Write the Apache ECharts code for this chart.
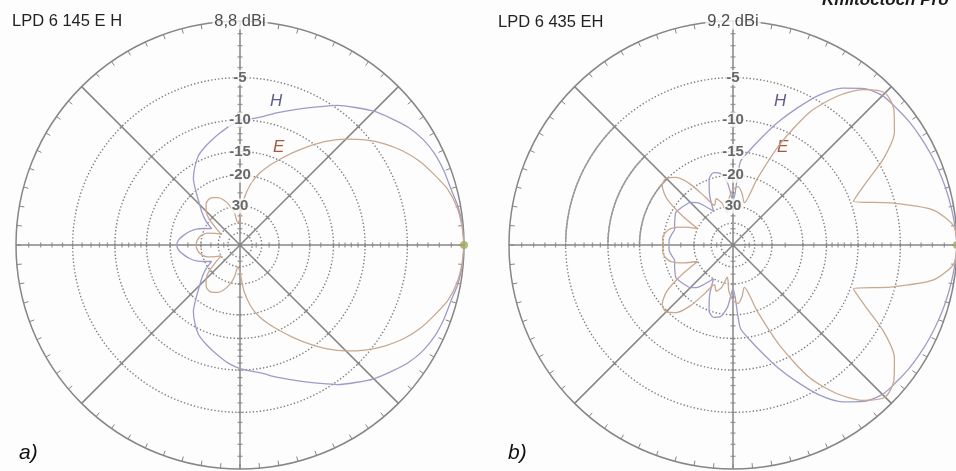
<!DOCTYPE html>
<html>
<head>
<meta charset="utf-8">
<script src="https://cdn.jsdelivr.net/npm/echarts@6/dist/echarts.min.js"></script>
<style>
  html, body { margin: 0; padding: 0; background: #fdfdfd; }
  #c { width: 956px; height: 471px; }
</style>
</head>
<body>
<div id="c"></div>
<script>
// Azimuth angle of every sample, degrees (0 = boresight, to the right)
const angles = [0,5,10,15,20,25,30,35,40,45,50,55,60,65,70,75,80,85,90,95,100,105,110,115,120,125,130,135,140,145,150,155,160,165,170,175,180,
  185,190,195,200,205,210,215,220,225,230,235,240,245,250,255,260,265,270,275,280,285,290,295,300,305,310,315,320,325,330,335,340,345,350,355,360];

// LPD 6 145 E H — relative gain in dB
const leftH = [0,-0.05,-0.2,-0.45,-0.55,-0.7,-1.0,-1.5,-2.2,-2.9,-3.8,-4.7,-5.8,-6.8,-7.7,-8.5,-9.3,-9.8,-10.2,-10.8,-11.6,-12.4,-13.2,-14.1,-15.6,-17.4,-20.5,-23.5,-26,-29,-33,-30,-27,-25,-23.5,-22.2,-21.7,
  -22.2,-23.5,-25,-27,-30,-33,-29,-26,-23.5,-20.5,-17.4,-15.6,-14.1,-13.2,-12.4,-11.6,-10.8,-10.2,-9.8,-9.3,-8.5,-7.7,-6.8,-5.8,-4.7,-3.8,-2.9,-2.2,-1.5,-1.0,-0.7,-0.55,-0.45,-0.2,-0.05,0];
const leftE = [0,-0.1,-0.3,-0.7,-1.4,-2.1,-3.0,-4.1,-5.4,-6.9,-8.6,-10.6,-12.7,-14.8,-16.8,-19,-22,-27,-36,-40,-33,-29,-26.5,-25,-24.2,-24,-24.8,-26.5,-29.5,-35,-40,-36,-32,-30,-28.8,-28.2,-28,
  -28.2,-28.8,-30,-32,-36,-40,-35,-29.5,-26.5,-24.8,-24,-24.2,-25,-26.5,-29,-33,-40,-36,-27,-22,-19,-16.8,-14.8,-12.7,-10.6,-8.6,-6.9,-5.4,-4.1,-3.0,-2.1,-1.4,-0.7,-0.3,-0.1,0];

// LPD 6 435 EH — relative gain in dB
const rightH = [0,-0.1,-0.2,-0.3,-0.4,-0.5,-0.6,-0.7,-0.85,-1.0,-1.6,-2.7,-4.4,-6.8,-9.3,-12,-14.5,-17,-28,-22,-19.3,-18.8,-20,-24,-30,-27,-24,-22.5,-22,-21.5,-21,-21.5,-22,-22.5,-22,-21.5,-21.5,
  -21.5,-22,-22.5,-22,-21.5,-21,-21.5,-22,-22.5,-24,-27,-30,-24,-20,-18.8,-19.3,-22,-28,-17,-14.5,-12,-9.3,-6.8,-4.4,-2.7,-1.6,-1.0,-0.85,-0.7,-0.6,-0.5,-0.4,-0.3,-0.2,-0.1,0];
const rightE = [0,-0.2,-1.7,-5.5,-9.6,-7.3,-4.3,-2.2,-1.1,-0.7,-1.7,-3.6,-6.5,-12,-20,-28,-25,-23,-24,-27,-33,-28,-26,-28,-24,-19,-16,-14.8,-15.2,-17.5,-23,-30,-25,-21.5,-20.2,-19.8,-20,
  -19.8,-20.2,-21.5,-25,-30,-23,-17.5,-15.2,-14.8,-16,-19,-24,-28,-26,-28,-33,-27,-24,-23,-25,-28,-20,-12,-6.5,-3.6,-1.7,-0.7,-1.1,-2.2,-4.3,-7.3,-9.6,-5.5,-1.7,-0.2,0];

// Grid: dotted rings, labelled rings, dB tick marks along the axes
const ringLevels = [-5, -10, -15, -20, -30, -40, -50];
const ringLabelLevels = [-5, -10, -15, -20, -30];
const ringLabelTexts = ['-5', '-10', '-15', '-20', '30'];
const axisTickLevels = [-1,-2,-3,-4,-5,-6,-7,-8,-9,-10,-11,-12,-13,-14,-15,-17.5,-20,-25,-30,-35,-45];
const solidArcLevels = [-5, -10, -15];

const titles = ['LPD 6 145 E H', 'LPD 6 435 EH'];
const gains = ['8,8 dBi', '9,2 dBi'];
const panelTags = ['a)', 'b)'];

// ARRL log-periodic radial scale: rim = 0 dB, each 2 dB shrinks radius by 0.89
function arrl(db) { return Math.pow(0.89, -db / 2); }

const GRID = '#868686';
const COL_H = '#9e9bc8';
const COL_E = '#c9a890';
const R = 224;
const centers = [[240, 245], [733, 245]];
const patterns = [[leftH, leftE], [rightH, rightE]];
const FONT = 'Liberation Sans, Arial, sans-serif';

function circle(db, a0, a1) {
  const pts = [];
  for (let a = a0; a <= a1; a += 2) pts.push([arrl(db), a]);
  return pts;
}

const series = [];
centers.forEach(function (c, i) {
  ringLevels.forEach(function (lv) {
    series.push({
      type: 'line', coordinateSystem: 'polar', polarIndex: i, silent: true, symbol: 'none', z: 1,
      data: circle(lv, 0, 360),
      lineStyle: { color: '#7e7e7e', width: 1.4, type: [1.4, 2.1] }
    });
  });
  if (i === 1) {
    solidArcLevels.forEach(function (lv) {
      series.push({
        type: 'line', coordinateSystem: 'polar', polarIndex: i, silent: true, symbol: 'none', z: 1,
        data: circle(lv, 135, 180),
        lineStyle: { color: '#999', width: 1.5 }
      });
    });
  }
  // tick marks across the spokes
  const ticks = [];
  [0, 90, 180, 270].forEach(function (a) {
    axisTickLevels.forEach(function (lv) {
      ticks.push({ value: [arrl(lv), a], symbolRotate: a });
    });
  });
  [45, 135, 225, 315].forEach(function (a) {
    ringLevels.slice(0, 5).forEach(function (lv) {
      ticks.push({ value: [arrl(lv), a], symbolRotate: a });
    });
  });
  series.push({
    type: 'scatter', coordinateSystem: 'polar', polarIndex: i, silent: true, z: 3,
    symbol: 'rect', symbolSize: [1.3, 5],
    itemStyle: { color: GRID },
    data: ticks
  });
  const pat = patterns[i];
  series.push({
    type: 'line', coordinateSystem: 'polar', polarIndex: i, symbol: 'none', z: 5, name: 'H',
    smooth: 0.25,
    data: angles.map(function (a, k) { return [arrl(pat[0][k]), a]; }),
    lineStyle: { color: COL_H, width: 1.3 }
  });
  series.push({
    type: 'line', coordinateSystem: 'polar', polarIndex: i, symbol: 'none', z: 6, name: 'E',
    smooth: 0.25,
    data: angles.map(function (a, k) { return [arrl(pat[1][k]), a]; }),
    lineStyle: { color: COL_E, width: 1.3 }
  });
  // ring labels on the upper vertical axis
  series.push({
    type: 'scatter', coordinateSystem: 'polar', polarIndex: i, silent: true, z: 8, symbolSize: 0,
    data: ringLabelLevels.map(function (lv, k) {
      return { value: [arrl(lv), 90], label: { formatter: ringLabelTexts[k] } };
    }),
    label: {
      show: true, position: 'inside', color: '#444', fontSize: 15, fontWeight: 'bold',
      fontFamily: FONT, backgroundColor: '#fdfdfd', padding: [0, 1]
    }
  });
  // maximum gain at the rim
  series.push({
    type: 'scatter', coordinateSystem: 'polar', polarIndex: i, silent: true, z: 8, symbolSize: 0,
    data: [{ value: [1, 90], label: { formatter: gains[i] } }],
    label: {
      show: true, position: 'inside', color: '#222', fontSize: 16.5,
      fontFamily: FONT, backgroundColor: '#fdfdfd', padding: [0, 2]
    }
  });
  series.push({
    type: 'scatter', coordinateSystem: 'polar', polarIndex: i, silent: true, z: 9, symbolSize: 8,
    itemStyle: { color: '#a3aa5e' },
    data: [[1, 0]]
  });
});

const graphics = [
  { type: 'text', left: 12, top: 13, style: { text: titles[0], fill: '#222', font: '16.5px ' + FONT } },
  { type: 'text', left: 498, top: 14, style: { text: titles[1], fill: '#222', font: '16.5px ' + FONT } },
  { type: 'text', left: 19, top: 443, style: { text: panelTags[0], fill: '#111', font: 'italic 21px ' + FONT } },
  { type: 'text', left: 508, top: 443, style: { text: panelTags[1], fill: '#111', font: 'italic 21px ' + FONT } },
  { type: 'text', left: 270, top: 93, style: { text: 'H', fill: '#5f5c94', font: 'italic 17px ' + FONT } },
  { type: 'text', left: 273, top: 139, style: { text: 'E', fill: '#a4583f', font: 'italic 17px ' + FONT } },
  { type: 'text', left: 774, top: 93, style: { text: 'H', fill: '#5f5c94', font: 'italic 17px ' + FONT } },
  { type: 'text', left: 777, top: 139, style: { text: 'E', fill: '#a4583f', font: 'italic 17px ' + FONT } },
  { type: 'text', left: 822, top: -8, style: { text: 'Kmitočtoch Pro', fill: '#1a1a1a', font: 'italic bold 17px ' + FONT } }
];

const chart = echarts.init(document.getElementById('c'));
chart.setOption({
  animation: false,
  backgroundColor: '#fdfdfd',
  polar: centers.map(function (c) { return { center: c, radius: R }; }),
  angleAxis: centers.map(function (c, i) {
    return {
      polarIndex: i, type: 'value', min: 0, max: 360, interval: 45,
      startAngle: 0, clockwise: false,
      axisLine: { lineStyle: { color: GRID, width: 1.5 } },
      axisTick: { show: true, inside: true, length: 5, lineStyle: { color: GRID, width: 1 } },
      minorTick: { show: true, splitNumber: 9, length: 5, lineStyle: { color: GRID, width: 1 } },
      axisLabel: { show: false },
      splitLine: { show: true, lineStyle: { color: GRID, width: 1.5 } }
    };
  }),
  radiusAxis: centers.map(function (c, i) {
    return {
      polarIndex: i, type: 'value', min: 0, max: 1,
      axisLine: { show: false }, axisTick: { show: false },
      axisLabel: { show: false }, splitLine: { show: false }
    };
  }),
  graphic: graphics,
  series: series
});
</script>
</body>
</html>
